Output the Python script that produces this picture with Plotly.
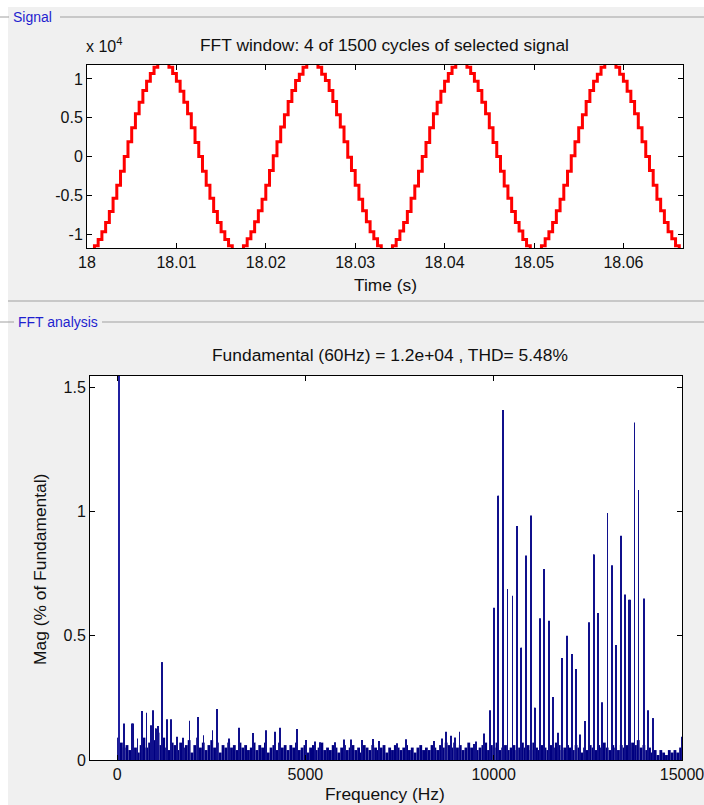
import plotly.graph_objects as go

# ---------------- data ----------------
# Signal window (units of 1e4), sampled every 1/2400 s starting at t = 18 s
t_start = 18.0
sample_rate = 2400
signal_e4 = [
    -1.22, -1.22, -1.15, -1.07, -0.97, -0.85, -0.71, -0.54, -0.37, -0.19,
    0.00, 0.19, 0.37, 0.55, 0.70, 0.85, 0.97, 1.07, 1.15, 1.22,
    1.22, 1.22, 1.15, 1.07, 0.97, 0.84, 0.70, 0.55, 0.37, 0.18,
    0.00, -0.19, -0.37, -0.54, -0.71, -0.85, -0.97, -1.07, -1.15, -1.22,
    -1.22, -1.22, -1.15, -1.06, -0.97, -0.84, -0.70, -0.55, -0.37, -0.18,
    0.01, 0.19, 0.38, 0.54, 0.71, 0.85, 0.98, 1.06, 1.15, 1.22,
    1.22, 1.22, 1.15, 1.06, 0.98, 0.85, 0.71, 0.54, 0.38, 0.19,
    -0.01, -0.18, -0.37, -0.55, -0.70, -0.84, -0.97, -1.06, -1.15, -1.22,
    -1.22, -1.22, -1.15, -1.07, -0.96, -0.85, -0.71, -0.54, -0.38, -0.19,
    0.00, 0.18, 0.37, 0.55, 0.70, 0.84, 0.97, 1.07, 1.15, 1.22,
    1.22, 1.22, 1.15, 1.07, 0.97, 0.85, 0.70, 0.55, 0.37, 0.18,
    0.00, -0.19, -0.38, -0.54, -0.71, -0.85, -0.96, -1.07, -1.15, -1.22,
    -1.22, -1.22, -1.15, -1.06, -0.97, -0.85, -0.70, -0.55, -0.37, -0.19,
    0.01, 0.19, 0.37, 0.54, 0.71, 0.85, 0.97, 1.06, 1.15, 1.22,
    1.22, 1.22, 1.15, 1.06, 0.97, 0.84, 0.71, 0.55, 0.37, 0.19,
    0.00, -0.18, -0.37, -0.55, -0.70, -0.85, -0.97, -1.06, -1.15, -1.22,
    -1.22,
]
time_ticks = [18, 18.01, 18.02, 18.03, 18.04, 18.05, 18.06]
time_tick_labels = ["18", "18.01", "18.02", "18.03", "18.04", "18.05", "18.06"]
signal_ticks = [-1, -0.5, 0, 0.5, 1]
signal_tick_labels = ["-1", "-0.5", "0", "0.5", "1"]

# FFT noise floor (% of fundamental), one value per 75 Hz band from 0 Hz
floor_start_hz = 0
floor_step_hz = 75
floor_mag = [
    0.09, 0.07, 0.05, 0.06, 0.04, 0.08, 0.05, 0.03, 0.06, 0.09, 0.05, 0.07, 0.10, 0.08, 0.11, 0.06, 0.09, 0.05, 0.04, 0.07,
    0.06, 0.04, 0.07, 0.05, 0.06, 0.08, 0.03, 0.06, 0.09, 0.05, 0.07, 0.04, 0.06, 0.08, 0.05, 0.07, 0.03, 0.06, 0.05, 0.07,
    0.05, 0.06, 0.04, 0.07, 0.05, 0.06, 0.04, 0.05, 0.07, 0.04, 0.06, 0.05, 0.07, 0.03, 0.05, 0.06, 0.04, 0.07, 0.05, 0.06,
    0.04, 0.06, 0.05, 0.07, 0.04, 0.05, 0.06, 0.03, 0.05, 0.06, 0.04, 0.05, 0.07, 0.04, 0.05, 0.04, 0.06, 0.05, 0.03, 0.05,
    0.06, 0.04, 0.05, 0.06, 0.04, 0.05, 0.03, 0.06, 0.05, 0.04, 0.06, 0.05, 0.04, 0.05, 0.06, 0.03, 0.05, 0.04, 0.06, 0.05,
    0.04, 0.05, 0.06, 0.04, 0.05, 0.03, 0.05, 0.06, 0.04, 0.05, 0.04, 0.06, 0.05, 0.04, 0.06, 0.05, 0.07, 0.06, 0.05, 0.07,
    0.05, 0.06, 0.04, 0.05, 0.07, 0.05, 0.06, 0.04, 0.05, 0.06, 0.07, 0.04, 0.06, 0.05, 0.07, 0.04, 0.05, 0.06, 0.04, 0.05,
    0.06, 0.04, 0.05, 0.07, 0.05, 0.06, 0.04, 0.07, 0.05, 0.04, 0.06, 0.05, 0.04, 0.06, 0.05, 0.07, 0.06, 0.04, 0.05, 0.06,
    0.05, 0.04, 0.06, 0.05, 0.03, 0.05, 0.04, 0.06, 0.05, 0.04, 0.06, 0.05, 0.07, 0.05, 0.04, 0.06, 0.05, 0.04, 0.06, 0.05,
    0.06, 0.05, 0.07, 0.06, 0.08, 0.05, 0.06, 0.04, 0.05, 0.03, 0.04, 0.02, 0.04, 0.03, 0.02, 0.04, 0.03, 0.04, 0.03, 0.05,
]

# Individual harmonic lines (Hz, % of fundamental)
spike_freq = [
    180, 405, 420, 540, 660, 780, 900, 960, 1020, 1035, 1050, 1095, 1185, 1200, 1320, 1440,
    1590, 1755, 1920, 2145, 2160, 2295, 2535, 2645, 2970, 3240, 3600, 3950, 4190, 4320, 4780,
    5015, 5245, 5395, 5775, 6015, 6210, 6500, 6795, 6945, 7430, 7680, 8405, 8630, 8735, 8875,
    8975, 9090, 9470, 9530, 9735, 9895,
    10000, 10110, 10125, 10245, 10365, 10500, 10620, 10725, 10740, 10860, 10980, 11085, 11100,
    11220, 11340, 11475, 11580, 11700, 11820, 11940, 12075, 12180, 12290, 12420, 12525, 12650,
    12665, 12775, 12880, 13020, 13135, 13245, 13260, 13375, 13490, 13600, 13615, 13740, 13845,
    13985, 14105, 14220, 14235, 15000,
]
spike_mag = [
    0.147, 0.147, 0.147, 0.087, 0.197, 0.19, 0.14, 0.20, 0.127, 0.127, 0.12, 0.137, 0.393, 0.393, 0.164, 0.164,
    0.094, 0.09, 0.158, 0.173, 0.173, 0.10, 0.12, 0.205, 0.087, 0.13, 0.109, 0.12, 0.114, 0.13, 0.125,
    0.08, 0.074, 0.071, 0.071, 0.082, 0.082, 0.08, 0.084, 0.076, 0.067, 0.083, 0.076, 0.087, 0.114, 0.098,
    0.091, 0.114, 0.064, 0.074, 0.107, 0.20,
    0.613, 1.063, 1.063, 1.408, 0.688, 0.661, 0.941, 0.452, 0.452, 0.823, 0.984, 0.21, 0.21,
    0.57, 0.768, 0.56, 0.253, 0.11, 0.41, 0.50, 0.426, 0.366, 0.103, 0.157, 0.554, 0.827,
    0.827, 0.591, 0.232, 0.994, 0.784, 0.463, 0.463, 0.902, 0.666, 0.645, 0.645, 1.358, 1.086,
    0.65, 0.20, 0.168, 0.168, 0.094,
]
fundamental_freq = [60]
fundamental_mag = [100]

freq_ticks = [0, 5000, 10000, 15000]
freq_tick_labels = ["0", "5000", "10000", "15000"]
mag_ticks = [0, 0.5, 1, 1.5]
mag_tick_labels = ["0", "0.5", "1", "1.5"]

# ---------------- figure ----------------
W, H = 704, 805
def px(x):
    return x / W
def py(y):
    return 1 - y / H

t_vals = [t_start + k / sample_rate for k in range(len(signal_e4))]
floor_freq = [floor_start_hz + k * floor_step_hz for k in range(len(floor_mag))]

NAVY = "#000080"
FONT = "Liberation Sans, Arial, sans-serif"
TXT = "#111111"

fig = go.Figure()
fig.add_trace(go.Scatter(x=t_vals, y=signal_e4, mode="lines",
                         line=dict(color="#FF0000", width=3, shape="hv"),
                         xaxis="x", yaxis="y", showlegend=False, hoverinfo="skip"))
fig.add_trace(go.Bar(x=floor_freq, y=floor_mag, width=floor_step_hz, offset=0,
                     marker=dict(color=NAVY, line=dict(width=0)),
                     xaxis="x2", yaxis="y2", showlegend=False, hoverinfo="skip"))
fig.add_trace(go.Bar(x=spike_freq, y=spike_mag, width=22,
                     marker=dict(color="#10108C", line=dict(width=0)),
                     xaxis="x2", yaxis="y2", showlegend=False, hoverinfo="skip"))
fig.add_trace(go.Bar(x=fundamental_freq, y=fundamental_mag, width=22,
                     marker=dict(color="#2020A0", line=dict(width=0)),
                     xaxis="x2", yaxis="y2", showlegend=False, hoverinfo="skip"))

axis_common = dict(ticks="inside", ticklen=5, tickcolor="#000", tickwidth=1,
                   showline=True, linecolor="#000", linewidth=1, mirror="allticks",
                   showgrid=False, zeroline=False, automargin=False,
                   ticklabeloverflow="allow",
                   tickfont=dict(family=FONT, size=16, color=TXT))

fig.update_layout(
    width=W, height=H,
    margin=dict(l=0, r=0, t=0, b=0, autoexpand=False),
    paper_bgcolor="#F0F0F0", plot_bgcolor="#FFFFFF",
    barmode="overlay",
    font=dict(family=FONT, size=16, color=TXT),
    xaxis=dict(domain=[px(87), px(683)], anchor="y", range=[18, 18 + 4 / 60],
               tickmode="array", tickvals=time_ticks, ticktext=time_tick_labels, **axis_common),
    yaxis=dict(domain=[py(248), py(65)], anchor="x", range=[-1.18, 1.18],
               tickmode="array", tickvals=signal_ticks, ticktext=signal_tick_labels, **axis_common),
    xaxis2=dict(domain=[px(90), px(682)], anchor="y2", range=[-720, 15000],
                tickmode="array", tickvals=freq_ticks, ticktext=freq_tick_labels, **axis_common),
    yaxis2=dict(domain=[py(760), py(376)], anchor="x2", range=[0, 1.545],
                tickmode="array", tickvals=mag_ticks, ticktext=mag_tick_labels, **axis_common),
)

ann = []
def text(x, y, s, size=17.4, color=TXT, xanchor="center", angle=0):
    ann.append(dict(x=px(x), y=py(y), xref="paper", yref="paper", text=s, showarrow=False,
                    xanchor=xanchor, yanchor="middle", textangle=angle,
                    font=dict(family=FONT, size=size, color=color)))

text(384, 45, "FFT window: 4 of 1500 cycles of selected signal")
text(84, 45, "x 10<sup>4</sup>", size=16, xanchor="left")
text(385, 285, "Time (s)")
text(390, 355, "Fundamental (60Hz) = 1.2e+04 , THD= 5.48%")
text(40, 570, "Mag (% of Fundamental)", angle=-90)
text(385, 794, "Frequency (Hz)")
text(11, 17, "Signal", size=14, color="#1F1FCF", xanchor="left")
text(16, 322, "FFT analysis", size=14, color="#1F1FCF", xanchor="left")
fig.update_layout(annotations=ann)

shapes = []
def hline(x0, x1, y, color="#A0A0A0"):
    shapes.append(dict(type="line", xref="paper", yref="paper", x0=px(x0), x1=px(x1),
                       y0=py(y), y1=py(y), line=dict(color=color, width=1), layer="below"))
# white window border strips (left and top)
shapes.append(dict(type="rect", xref="paper", yref="paper", x0=0, x1=px(8), y0=0, y1=1,
                   fillcolor="#FFFFFF", line=dict(width=0), layer="below"))
shapes.append(dict(type="rect", xref="paper", yref="paper", x0=0, x1=1, y0=py(7), y1=1,
                   fillcolor="#FFFFFF", line=dict(width=0), layer="below"))
hline(0, 9, 17)
hline(60, 704, 17)
hline(8, 704, 301)
hline(0, 14, 322)
hline(102, 704, 322)
fig.update_layout(shapes=shapes)

fig.write_html("out.html")
